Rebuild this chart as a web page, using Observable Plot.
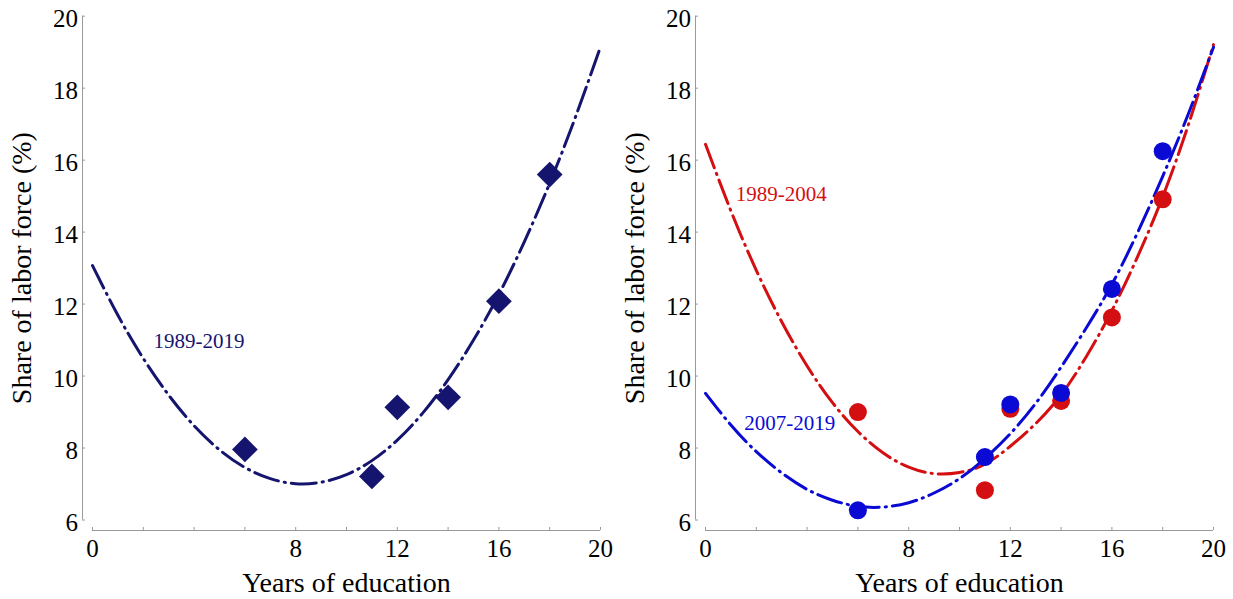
<!DOCTYPE html>
<html>
<head>
<meta charset="utf-8">
<script src="https://cdn.jsdelivr.net/npm/d3@7"></script>
<script src="https://cdn.jsdelivr.net/npm/@observablehq/plot@0.6"></script>
<style>
  html, body { margin: 0; padding: 0; background: #fff; }
  #wrap { display: flex; width: 1233px; height: 599px; overflow: hidden; }
  #wrap svg { flex: none; }
  #wrap svg text { font-family: "Liberation Serif", "Times New Roman", serif !important; }
</style>
</head>
<body>
<div id="wrap"></div>
<script>
// ---- data ----
const eduLevels = [6, 11, 12, 14, 16, 18];
const share8919 = [7.96, 7.21, 9.13, 9.41, 12.08, 15.6];
const share8904 = [9.0, 6.83, 9.09, 9.31, 11.63, 14.91];
const share0719 = [6.27, 7.75, 9.21, 9.53, 12.42, 16.25];

// fitted curves, read at every year of education
const fitYears = [0, 1, 2, 3, 4, 5, 6, 7, 8, 9, 10, 11, 12, 13, 14, 15, 16, 17, 18, 19, 20];
const fit8919 = [13.07, 11.69, 10.49, 9.47, 8.62, 7.95, 7.46, 7.15, 7.01, 7.05, 7.26, 7.65, 8.22, 8.97, 9.90, 11.0, 12.27, 13.73, 15.36, 17.17, 19.15];
const fit8904 = [16.44, 14.59, 12.94, 11.51, 10.28, 9.26, 8.46, 7.86, 7.47, 7.29, 7.32, 7.55, 8.05, 8.68, 9.48, 10.55, 11.82, 13.3, 14.98, 16.96, 19.21];
const fit0719 = [9.52, 8.64, 7.90, 7.31, 6.85, 6.55, 6.38, 6.36, 6.48, 6.75, 7.15, 7.71, 8.40, 9.24, 10.25, 11.35, 12.55, 13.97, 15.55, 17.27, 19.14];

const seriesNames = ["1989-2019", "1989-2004", "2007-2019"];
const xTicks = [0, 2, 4, 6, 8, 10, 12, 14, 16, 18, 20];
const xTickLabels = [0, 8, 12, 16, 20];
const yTicks = [6, 8, 10, 12, 14, 16, 18, 20];
const xTitle = "Years of education";
const yTitle = "Share of labor force (%)";

// ---- styling ----
const NAVY = "#15156f";
const RED = "#d40f12";
const BLUE = "#0a0ad4";
const AXIS_GRAY = "#9a9a9a";
const FONT = "Liberation Serif";
const DASH = "25,6,1.2,6";

const pts = (vals) => eduLevels.map((x, i) => ({x, y: vals[i]}));
const curve = (vals) => fitYears.map((x, i) => ({x, y: vals[i]}));

function axesMarks() {
  return [
    Plot.ruleX([xTicks[0]], {y1: yTicks[0], y2: yTicks[yTicks.length - 1], dx: -10, stroke: AXIS_GRAY, strokeWidth: 1}),
    Plot.ruleY([yTicks[0]], {x1: xTicks[0], x2: xTicks[xTicks.length - 1], dy: 10.5, stroke: AXIS_GRAY, strokeWidth: 1}),
    Plot.axisY({ticks: yTicks, tickSize: -3, stroke: AXIS_GRAY, fill: "none", label: null}),
    Plot.axisY({ticks: yTicks, tickSize: 0, tickPadding: 4.5, dy: 2.5, fill: "black", label: null, fontSize: 25, fontFamily: FONT, fontVariant: "normal", tickFormat: d => String(d)}),
    Plot.axisX({ticks: xTicks, tickSize: -3, stroke: AXIS_GRAY, fill: "none", label: null}),
    Plot.axisX({ticks: xTickLabels, tickSize: 0, tickPadding: 9, fill: "black", label: null, fontSize: 25, fontFamily: FONT, fontVariant: "normal", tickFormat: d => String(d)}),
    Plot.text([xTitle], {x: 10, y: 6, dy: 63.5, text: d => d, fontSize: 28, fontFamily: FONT, fill: "black"}),
    Plot.text([yTitle], {x: 0, y: 13, dx: -70, rotate: -90, text: d => d, fontSize: 28, fontFamily: FONT, fill: "black"})
  ];
}

function base(width, marks) {
  return Plot.plot({
    width,
    height: 599,
    marginLeft: 82,
    marginRight: width - 600,
    marginTop: 15,
    marginBottom: 69,
    x: {domain: [0, 20], range: [92, 600], axis: null},
    y: {domain: [6, 20], range: [519.5, 15.7], axis: null},
    style: {fontFamily: FONT, fontSize: "25px", background: "white", color: "black", overflow: "visible"},
    marks: [...axesMarks(), ...marks]
  });
}

const left = base(613, [
  Plot.line(curve(fit8919), {x: "x", y: "y", stroke: NAVY, strokeWidth: 3, strokeDasharray: DASH, curve: "natural"}),
  Plot.dot(pts(share8919), {x: "x", y: "y", symbol: "diamond2", r: 11.6, fill: NAVY, stroke: "none"}),
  Plot.text([seriesNames[0]], {x: 2.4, y: 10.96, text: d => d, textAnchor: "start", fontSize: 21, fontFamily: FONT, fill: NAVY})
]);

const right = base(620, [
  Plot.line(curve(fit8904), {x: "x", y: "y", stroke: RED, strokeWidth: 3, strokeDasharray: DASH, curve: "natural"}),
  Plot.line(curve(fit0719), {x: "x", y: "y", stroke: BLUE, strokeWidth: 3, strokeDasharray: DASH, curve: "natural"}),
  Plot.dot(pts(share8904), {x: "x", y: "y", r: 9, fill: RED, stroke: "none"}),
  Plot.dot(pts(share0719), {x: "x", y: "y", r: 9, fill: BLUE, stroke: "none"}),
  Plot.text([seriesNames[1]], {x: 1.19, y: 15.05, text: d => d, textAnchor: "start", fontSize: 21, fontFamily: FONT, fill: RED}),
  Plot.text([seriesNames[2]], {x: 1.53, y: 8.68, text: d => d, textAnchor: "start", fontSize: 21, fontFamily: FONT, fill: BLUE})
]);

const wrap = document.getElementById("wrap");
wrap.appendChild(left);
wrap.appendChild(right);
</script>
</body>
</html>
